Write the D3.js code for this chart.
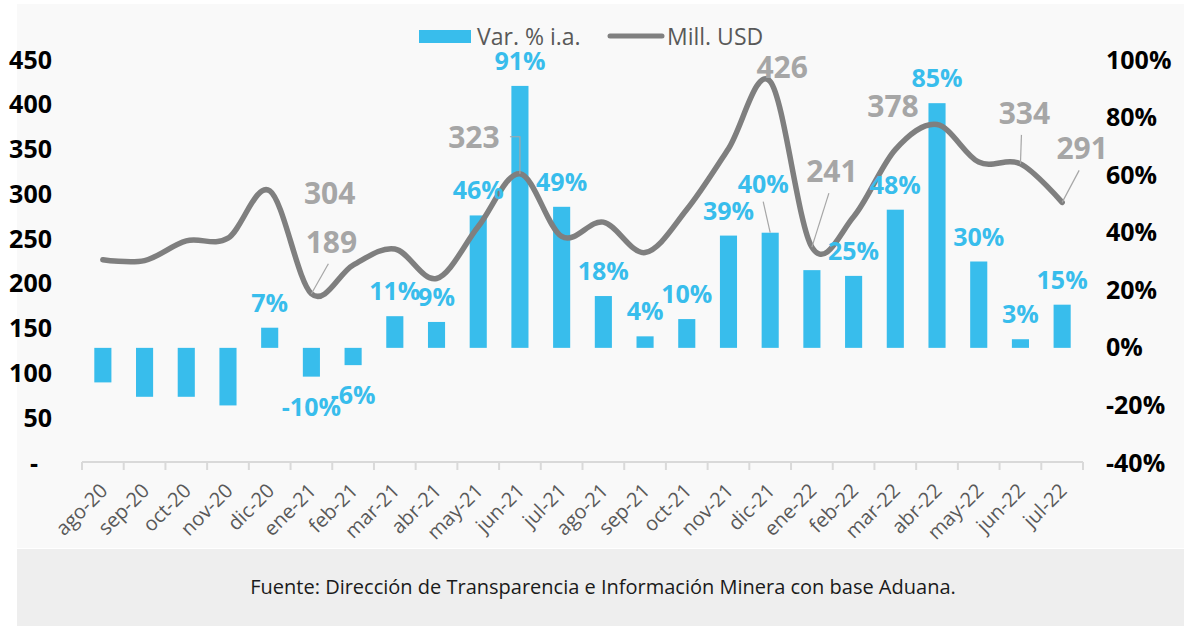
<!DOCTYPE html>
<html>
<head>
<meta charset="utf-8">
<script src="https://cdnjs.cloudflare.com/ajax/libs/d3/7.8.5/d3.min.js"></script>
<style>
  html, body { margin: 0; padding: 0; background: #fff; }
  svg { display: block; font-family: 'Open Sans', sans-serif; }
</style>
</head>
<body>
<svg id="chart" width="1184" height="626"></svg>
<script>
(function() {
  'use strict';

  // Data
  const months = ['ago-20','sep-20','oct-20','nov-20','dic-20','ene-21','feb-21','mar-21','abr-21','may-21','jun-21','jul-21',
                  'ago-21','sep-21','oct-21','nov-21','dic-21','ene-22','feb-22','mar-22','abr-22','may-22','jun-22','jul-22'];
  const varPct = [-12, -17, -17, -20, 7, -10, -6, 11, 9, 46, 91, 49, 18, 4, 10, 39, 40, 27, 25, 48, 85, 30, 3, 15];
  const millUsd = [227, 226, 248, 251, 304, 189, 221, 239, 206, 264, 323, 253, 269, 235, 283, 351, 426, 241, 275, 350, 378, 336, 334, 291];
  const leftTicks = [0, 50, 100, 150, 200, 250, 300, 350, 400, 450];
  const rightTicks = [-40, -20, 0, 20, 40, 60, 80, 100];

  // Which points carry a data label (as in the reference)
  const varLabelMonths = ['dic-20','ene-21','feb-21','mar-21','abr-21','may-21','jun-21','jul-21','ago-21','sep-21','oct-21',
                          'nov-21','dic-21','feb-22','mar-22','abr-22','may-22','jun-22','jul-22'];
  const usdLabelMonths = ['dic-20','ene-21','jun-21','dic-21','ene-22','abr-22','jun-22','jul-22'];

  // Manual label nudges (dx, dy from the point) and leader styles
  const varLabelNudge = { 'dic-21': [-7, -24] };
  const usdLabelNudge = {
    'dic-20': [60, 2], 'ene-21': [20, -52], 'jun-21': [-46, -37], 'dic-21': [12, -14],
    'ene-22': [20, -76], 'abr-22': [-44, -18], 'jun-22': [4, -51], 'jul-22': [20, -54]
  };
  const usdLeader = { 'ene-21': 'straight', 'ene-22': 'straight', 'jun-22': 'straight', 'jul-22': 'straight', 'jun-21': 'elbow' };

  const BLUE = '#38bdec';
  const LINE = '#7f7f7f';
  const LABEL_GREY = '#a6a6a6';

  const svg = d3.select('#chart');

  // backgrounds
  svg.append('rect').attr('x', 17).attr('y', 4).attr('width', 1167).attr('height', 544).attr('fill', '#f9f9f9');
  svg.append('rect').attr('x', 17).attr('y', 549).attr('width', 1167).attr('height', 77).attr('fill', '#eeeeee');

  const x = d3.scaleBand().domain(months).range([82, 1083]).paddingInner(0.59).paddingOuter(0.295);
  const yL = d3.scaleLinear().domain([0, 450]).range([463, 60]);
  const yR = d3.scaleLinear().domain([-40, 100]).range([463, 60]);
  const cx = m => x(m) + x.bandwidth() / 2;

  // left axis
  const gL = svg.append('g').attr('transform', 'translate(52,0)')
    .call(d3.axisLeft(yL).tickValues(leftTicks).tickSize(0).tickPadding(0)
      .tickFormat(d => d === 0 ? '-' : d));
  gL.select('.domain').remove();
  gL.selectAll('text').attr('font-family', "'Open Sans', sans-serif").attr('font-size', 25)
    .attr('font-weight', 700).attr('fill', '#000');
  gL.selectAll('.tick').filter(d => d === 0).select('text').attr('dx', -14);

  // right axis
  const gR = svg.append('g').attr('transform', 'translate(1106,0)')
    .call(d3.axisRight(yR).tickValues(rightTicks).tickSize(0).tickPadding(0).tickFormat(d => d + '%'));
  gR.select('.domain').remove();
  gR.selectAll('text').attr('font-family', "'Open Sans', sans-serif").attr('font-size', 25)
    .attr('font-weight', 700).attr('fill', '#000');

  // x axis line and boundary ticks
  const axisY = 462;
  svg.append('line').attr('x1', x.range()[0]).attr('x2', x.range()[1])
    .attr('y1', axisY).attr('y2', axisY).attr('stroke', '#d9d9d9').attr('stroke-width', 2);
  d3.range(months.length + 1).forEach(i => {
    const tx = x.range()[0] + i * x.step();
    svg.append('line').attr('x1', tx).attr('x2', tx).attr('y1', axisY).attr('y2', axisY + 8)
      .attr('stroke', '#d9d9d9').attr('stroke-width', 2);
  });
  svg.append('g').selectAll('text').data(months).join('text')
    .attr('transform', d => `translate(${cx(d) + 6},${axisY + 30}) rotate(-45)`)
    .attr('text-anchor', 'end')
    .attr('font-size', 20)
    .attr('fill', '#595959')
    .text(d => d);

  // bars
  const bars = months.map((m, i) => ({ m, v: varPct[i] }));
  svg.append('g').selectAll('rect').data(bars).join('rect')
    .attr('x', d => x(d.m))
    .attr('width', x.bandwidth())
    .attr('y', d => yR(Math.max(0, d.v)))
    .attr('height', d => Math.abs(yR(d.v) - yR(0)))
    .attr('fill', BLUE);

  // line
  const pts = months.map((m, i) => ({ m, v: millUsd[i] }));
  const line = d3.line().x(d => cx(d.m)).y(d => yL(d.v)).curve(d3.curveCardinal.tension(0));
  svg.append('path').datum(pts).attr('d', line)
    .attr('fill', 'none').attr('stroke', LINE).attr('stroke-width', 5.5)
    .attr('stroke-linecap', 'round').attr('stroke-linejoin', 'round');

  // bar labels
  bars.filter(d => varLabelMonths.includes(d.m)).forEach(d => {
    const nudge = varLabelNudge[d.m] || [0, 0];
    const baseY = d.v >= 0 ? yR(d.v) - 25 : yR(d.v) + 30;
    const lx = cx(d.m) + nudge[0];
    const ly = baseY + nudge[1];
    if (varLabelNudge[d.m]) {
      svg.append('line').attr('x1', lx).attr('y1', ly + 18).attr('x2', cx(d.m)).attr('y2', yR(d.v))
        .attr('stroke', LABEL_GREY).attr('stroke-width', 1.2);
    }
    svg.append('text').attr('x', lx).attr('y', ly).attr('dy', '0.36em')
      .attr('text-anchor', 'middle').attr('font-size', 25).attr('font-weight', 700)
      .attr('fill', BLUE).text(d.v + '%');
  });

  // line labels
  pts.filter(d => usdLabelMonths.includes(d.m)).forEach(d => {
    const px = cx(d.m), py = yL(d.v);
    const nudge = usdLabelNudge[d.m] || [0, -25];
    const lx = px + nudge[0], ly = py + nudge[1];
    const leader = usdLeader[d.m];
    if (leader === 'straight') {
      svg.append('line').attr('x1', lx - 3).attr('y1', ly + 22).attr('x2', px).attr('y2', py)
        .attr('stroke', LABEL_GREY).attr('stroke-width', 1.2);
    } else if (leader === 'elbow') {
      svg.append('path').attr('d', `M${lx + 36},${ly} H${px} V${py}`)
        .attr('fill', 'none').attr('stroke', LABEL_GREY).attr('stroke-width', 1.2);
    }
    svg.append('text').attr('x', lx).attr('y', ly).attr('dy', '0.36em')
      .attr('text-anchor', 'middle').attr('font-size', 30).attr('font-weight', 700)
      .attr('fill', LABEL_GREY).text(d.v);
  });

  // legend
  const lg = svg.append('g');
  lg.append('rect').attr('x', 419).attr('y', 30).attr('width', 52).attr('height', 13).attr('fill', BLUE);
  lg.append('text').attr('x', 477).attr('y', 45).attr('font-size', 23).attr('fill', '#595959').text('Var. % i.a.');
  lg.append('line').attr('x1', 610).attr('x2', 662).attr('y1', 36).attr('y2', 36)
    .attr('stroke', '#808080').attr('stroke-width', 5).attr('stroke-linecap', 'round');
  lg.append('text').attr('x', 667).attr('y', 45).attr('font-size', 23).attr('fill', '#595959').text('Mill. USD');

  // source note
  svg.append('text').attr('x', 603).attr('y', 587).attr('dy', '0.35em').attr('text-anchor', 'middle')
    .attr('font-size', 20).attr('fill', '#1a1a1a')
    .text('Fuente: Dirección de Transparencia e Información Minera con base Aduana.');
})();
</script>
</body>
</html>
